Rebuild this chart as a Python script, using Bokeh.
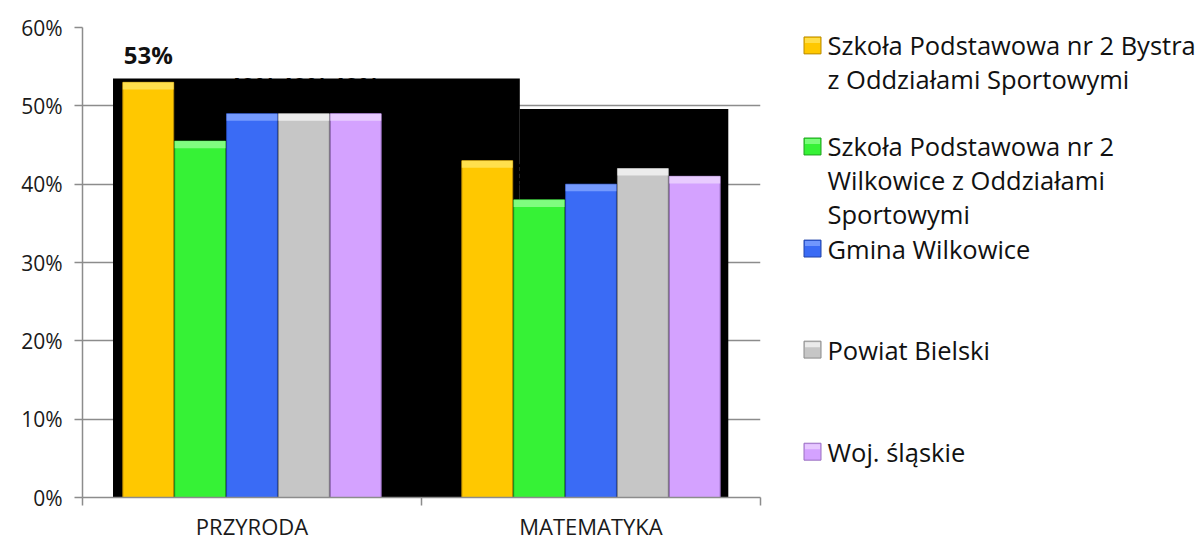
import textwrap
from bokeh.plotting import figure
from bokeh.layouts import row
from bokeh.models import ColumnDataSource, FixedTicker, Range1d, PrintfTickFormatter
from bokeh.core.properties import value
from bokeh.embed import file_html
from bokeh.resources import INLINE

# ---------------- data ----------------
categories = ["PRZYRODA", "MATEMATYKA"]
series_names = [
    "Szkoła Podstawowa nr 2 Bystra z Oddziałami Sportowymi",
    "Szkoła Podstawowa nr 2 Wilkowice z Oddziałami Sportowymi",
    "Gmina Wilkowice",
    "Powiat Bielski",
    "Woj. śląskie",
]
sp_bystra = [53, 43]
sp_wilkowice = [45.5, 38]
gmina_wilkowice = [49, 40]
powiat_bielski = [49, 42]
woj_slaskie = [49, 41]
y_tick_values = [0, 10, 20, 30, 40, 50, 60]

# black backdrop artefact behind the bars (data units)
backdrop_left = [0.09, 1.29]
backdrop_right = [1.29, 1.905]
backdrop_top = [53.5, 49.6]

series_values = [sp_bystra, sp_wilkowice, gmina_wilkowice, powiat_bielski, woj_slaskie]
fills = ["#FFC800", "#36F236", "#3A6BF5", "#C6C6C6", "#D4A2FF"]
lights = ["#FFE45A", "#8CFF8C", "#7FA2FF", "#F2F2F2", "#EBD2FF"]
edges = ["#B88A00", "#1FA01F", "#2244A8", "#8A8A8A", "#9A70C0"]

FONT = "Open Sans"
GRID = "#8C8C8C"
TOP, BOTTOM = 27, 44
H = 543

# ---------------- main chart ----------------
p = figure(width=778, height=H, x_range=Range1d(0, 2), y_range=Range1d(0, 60),
           toolbar_location=None, output_backend="svg",
           min_border_left=82, min_border_right=18, min_border_top=TOP, min_border_bottom=BOTTOM)
p.outline_line_color = None
p.background_fill_color = "white"
p.border_fill_color = "white"

p.xgrid.grid_line_color = None
p.ygrid.grid_line_color = GRID
p.ygrid.grid_line_width = 1.5
p.ygrid.ticker = FixedTicker(ticks=y_tick_values)

p.yaxis.ticker = FixedTicker(ticks=y_tick_values)
p.yaxis.formatter = PrintfTickFormatter(format="%d%%")
p.yaxis.axis_line_color = GRID
p.yaxis.axis_line_width = 1.5
p.yaxis.major_tick_line_color = GRID
p.yaxis.major_tick_line_width = 1.5
p.yaxis.major_tick_out = 8
p.yaxis.major_tick_in = 0
p.yaxis.minor_tick_line_color = None
p.yaxis.major_label_standoff = 12
p.yaxis.major_label_text_font = FONT
p.yaxis.major_label_text_font_size = "21px"
p.yaxis.major_label_text_color = "#1a1a1a"

centers = [i + 0.5 for i in range(len(categories))]
p.xaxis.ticker = FixedTicker(ticks=centers, minor_ticks=[float(i) for i in range(len(categories) + 1)])
p.xaxis.major_label_overrides = {c: name for c, name in zip(centers, categories)}
p.xaxis.axis_line_color = GRID
p.xaxis.axis_line_width = 1.5
p.xaxis.major_tick_line_color = None
p.xaxis.major_tick_out = 0
p.xaxis.major_tick_in = 0
p.xaxis.minor_tick_line_color = GRID
p.xaxis.minor_tick_line_width = 1.5
p.xaxis.minor_tick_out = 8
p.xaxis.minor_tick_in = 0
p.xaxis.major_label_standoff = 5
p.xaxis.major_label_text_font = FONT
p.xaxis.major_label_text_font_size = "22px"
p.xaxis.major_label_text_color = "#1a1a1a"

step = 0.153
bar_w = 0.150
n = len(series_values)

# data labels (drawn first so that the black backdrop hides most of them)
lab_x, lab_y, lab_t = [], [], []
for j, vals in enumerate(series_values):
    for i, v in enumerate(vals):
        lab_x.append(centers[i] + (j - (n - 1) / 2) * step)
        lab_y.append(v + 3.6)
        lab_t.append(f"{v:.0f}%")
p.text(x=lab_x, y=lab_y, text=lab_t, text_align="center", text_baseline="middle",
       text_font=value(FONT), text_font_style="bold", text_font_size="24px", text_color="#111111")

# black backdrop
p.quad(left=backdrop_left, right=backdrop_right, bottom=[0, 0], top=backdrop_top,
       fill_color="black", line_color=None)

# bars with a simple bevel look
bevel = 0.9
for j, vals in enumerate(series_values):
    xs = [centers[i] + (j - (n - 1) / 2) * step for i in range(len(vals))]
    src = ColumnDataSource(dict(
        left=[x - bar_w / 2 for x in xs], right=[x + bar_w / 2 for x in xs],
        top=vals, bottom=[0] * len(vals),
        htop=vals, hbot=[v - bevel for v in vals],
    ))
    p.quad(left="left", right="right", bottom="bottom", top="top", source=src,
           fill_color=fills[j], line_color=edges[j], line_width=1)
    p.quad(left="left", right="right", bottom="hbot", top="htop", source=src,
           fill_color=lights[j], fill_alpha=0.85, line_color=None)

# ---------------- legend panel (coordinates = page pixels) ----------------
LW = 1200 - 778
lg = figure(width=LW, height=H, x_range=Range1d(778, 1200), y_range=Range1d(H - BOTTOM, TOP),
            toolbar_location=None, output_backend="svg",
            x_axis_location=None, y_axis_location=None,
            min_border_left=0, min_border_right=0, min_border_top=TOP, min_border_bottom=BOTTOM)
lg.outline_line_color = None
lg.grid.grid_line_color = None
lg.background_fill_color = "white"
lg.border_fill_color = "white"

entry_y = [45, 146.5, 249, 350.5, 453]
line_gap = 34
marker_x = 812
text_x = 827
tx, ty, tt = [], [], []
for k, name in enumerate(series_names):
    for li, line in enumerate(textwrap.wrap(name, 29)):
        tx.append(text_x)
        ty.append(entry_y[k] + li * line_gap)
        tt.append(line)
lg.rect(x=[marker_x] * n, y=entry_y, width=17, height=17,
        fill_color=fills, line_color=edges, line_width=1)
lg.rect(x=[marker_x] * n, y=[e - 5 for e in entry_y], width=15, height=5,
        fill_color=lights, line_color=None, fill_alpha=0.8)
lg.text(x=tx, y=ty, text=tt, text_align="left", text_baseline="middle",
        text_font=value(FONT), text_font_size="25.5px", text_color="#111111")

layout = row(p, lg)
open("out.html", "w").write(file_html(layout, INLINE))
